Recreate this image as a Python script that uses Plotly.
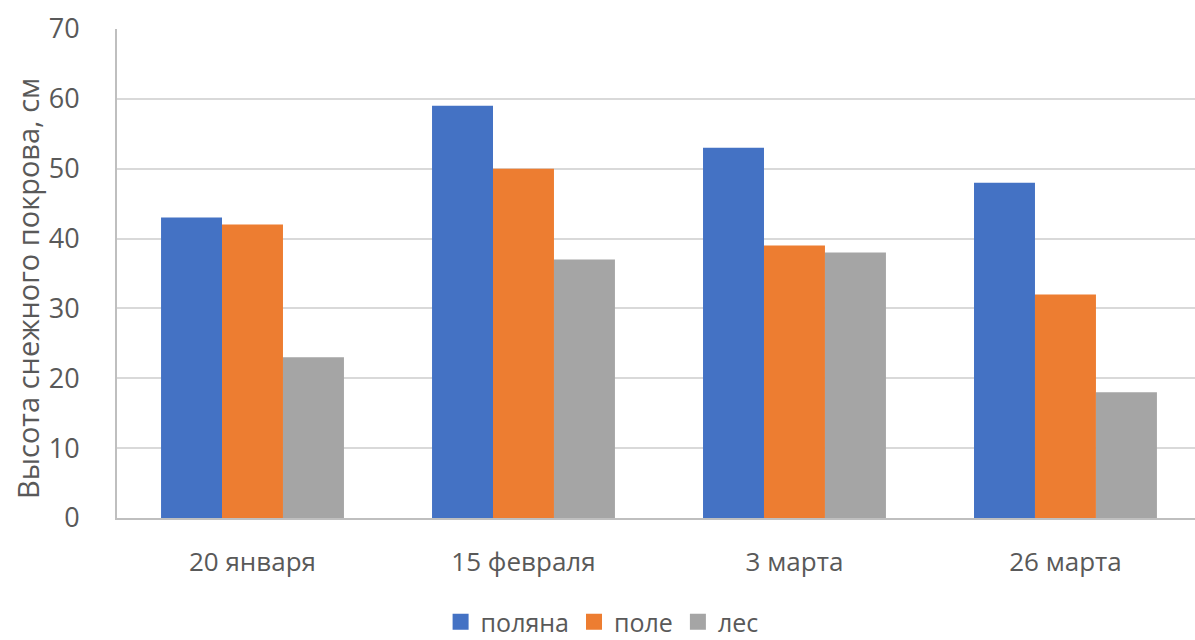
import plotly.graph_objects as go

# Snow depth survey, three sites on four dates
dates = ["20 января", "15 февраля", "3 марта", "26 марта"]
polyana = [43, 59, 53, 48]
pole = [42, 50, 39, 32]
les = [23, 37, 38, 18]

series = [
    ("поляна", polyana, "#4472C4"),
    ("поле", pole, "#ED7D31"),
    ("лес", les, "#A5A5A5"),
]

W, H = 1195, 640
FONT = "Open Sans"
TXT = "#595959"

fig = go.Figure()
for name, vals, color in series:
    fig.add_trace(go.Bar(x=dates, y=vals, name=name, marker_color=color,
                         marker_line_width=0, showlegend=False))
    # legend swatch: larger square marker than the default bar symbol
    fig.add_trace(go.Scatter(x=[None], y=[None], name=name, mode="markers",
                             marker=dict(symbol="square", size=18, color=color)))

fig.update_layout(
    width=W, height=H,
    margin=dict(l=117, r=0, t=29, b=122, autoexpand=False),
    paper_bgcolor="white", plot_bgcolor="white",
    barmode="group", bargap=0.325, bargroupgap=0,
    font=dict(family=FONT, color=TXT, size=26),
    showlegend=True,
    legend=dict(orientation="h", x=0.45, xanchor="center",
                yref="container", y=(640 - 622) / 640, yanchor="middle",
                font=dict(size=25, color=TXT),
                itemwidth=30, traceorder="normal", itemsizing="trace"),
)
fig.update_xaxes(
    range=[-0.5, 3.478], showgrid=False, showline=True, linecolor="#bfbfbf",
    linewidth=2, ticks="", ticklabelstandoff=20,
    tickfont=dict(size=26, color=TXT),
)
fig.update_yaxes(
    range=[0, 70], dtick=10, showgrid=True, gridcolor="#d9d9d9", gridwidth=2,
    showline=True, linecolor="#bfbfbf", linewidth=2, ticks="",
    ticklabelstandoff=30, zeroline=False,
    tickfont=dict(size=27, color=TXT),
)
fig.add_annotation(
    text="Высота снежного покрова, см", textangle=-90,
    xref="paper", yref="paper", x=(27 - 117) / 1078, y=(518 - 289) / 489,
    xanchor="center", yanchor="middle", showarrow=False,
    font=dict(size=29, color=TXT, family=FONT),
)

fig.write_html("out.html")
